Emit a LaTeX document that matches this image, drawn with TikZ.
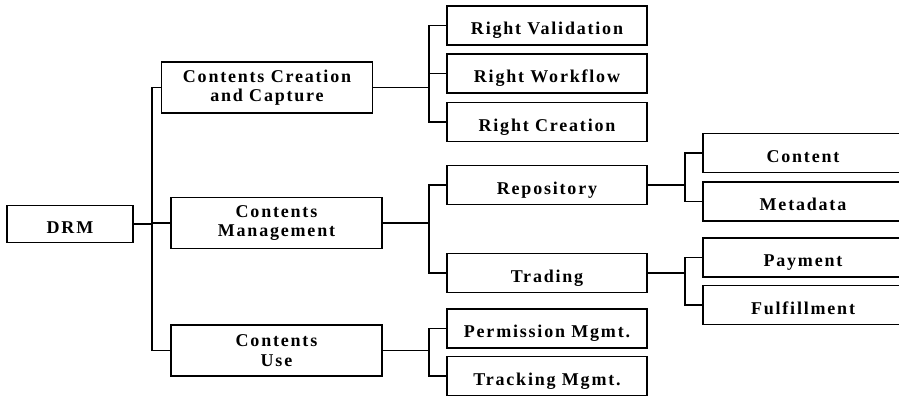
\documentclass[tikz,border=0pt]{standalone}
\usepackage{fontspec}
\setmainfont{Liberation Serif}[LetterSpace=10]

\begin{document}
\begin{tikzpicture}[x=0.75pt,y=-0.75pt,font=\bfseries\fontsize{13.5}{14.5}\selectfont,line width=1pt]
\tikzstyle{bb}=[draw,line width=1.2pt,minimum width=158pt,minimum height=38.25pt,align=center,inner sep=0pt]
\tikzstyle{b}=[bb,minimum width=150pt,minimum height=29.25pt,text height=13.6pt,text depth=0pt]
\useasboundingbox (0,0) rectangle (899,397);
\clip (0,0) rectangle (899,397);
% root and first level
\node[b,minimum width=94.5pt,minimum height=27.75pt] (drm) at (70,224) {DRM};
\node[bb] (ccc) at (267,87.5) {Contents Creation\\and Capture};
\node[bb] (cm) at (276.5,223) {Contents\\Management};
\node[bb] (cu) at (276.5,350.5) {Contents\\Use};
% second level
\node[b] (rv) at (547,25.5) {Right Validation};
\node[b] (rw) at (547,73.5) {Right Workflow};
\node[b] (rc) at (547,122) {Right Creation};
\node[b] (rep) at (547,185) {Repository};
\node[b] (tra) at (547,273) {Trading};
\node[b] (pm) at (547,328.5) {Permission Mgmt.};
\node[b] (tm) at (547,376) {Tracking Mgmt.};
% third level
\node[b] (con) at (803,153) {Content};
\node[b] (meta) at (803,201.5) {Metadata};
\node[b] (pay) at (803,257.5) {Payment};
\node[b] (ful) at (803,305) {Fulfillment};
% connectors
\coordinate (j0) at (152,224);
\draw (drm.east) -- (j0); \draw (ccc.west) -| (j0) |- (cu.west); \draw (j0) |- (cm.west);
\coordinate (j1) at (429,87.5);
\draw (ccc.east) -- (j1); \draw (rv.west) -| (j1) |- (rc.west); \draw (j1 |- rw) -- (rw.west);
\coordinate (j2) at (429,223);
\draw (cm.east) -- (j2); \draw (rep.west) -| (j2) |- (tra.west);
\coordinate (j3) at (429,350.5);
\draw (cu.east) -- (j3); \draw (pm.west) -| (j3) |- (tm.west);
\coordinate (j4) at (685,185);
\draw (rep.east) -- (j4); \draw (con.west) -| (j4) |- (meta.west);
\coordinate (j5) at (685,273);
\draw (tra.east) -- (j5); \draw (pay.west) -| (j5) |- (ful.west);
\end{tikzpicture}
\end{document}
